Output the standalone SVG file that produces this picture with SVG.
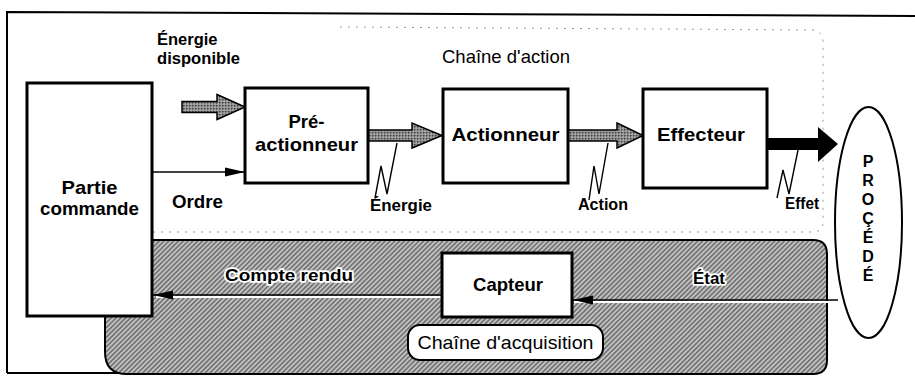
<svg xmlns="http://www.w3.org/2000/svg" width="915" height="385" viewBox="0 0 915 385">
  <style>
    .lbl { font-family: "Liberation Sans", Arial, sans-serif; font-weight: bold; fill: #000; }
    .reg { font-family: "Liberation Sans", Arial, sans-serif; font-weight: normal; fill: #000; }
    .box { fill: #fff; stroke: #000; stroke-width: 3; }
    .halo { paint-order: stroke; stroke: #fff; stroke-width: 3.5; stroke-linejoin: round; }
    .bolt { fill: none; stroke: #000; stroke-width: 1.4; stroke-linejoin: miter; }
    .thin { stroke: #000; stroke-width: 1.6; fill: none; }
  </style>
  <defs>
    <!-- diagonal hatch used for the acquisition band -->
    <pattern id="hatch" width="3.4" height="3.4" patternUnits="userSpaceOnUse" patternTransform="rotate(45)">
      <rect width="3.4" height="3.4" fill="#c2c2c2"/>
      <rect width="1.6" height="3.4" fill="#707070"/>
    </pattern>
    <!-- stippled grey for the energy arrows -->
    <pattern id="stip" width="3" height="3" patternUnits="userSpaceOnUse">
      <rect width="3" height="3" fill="#909090"/>
      <rect width="1.5" height="1.5" fill="#444"/>
      <rect x="1.5" y="1.5" width="1" height="1" fill="#ddd"/>
    </pattern>
    <marker id="head" markerWidth="22" markerHeight="12" refX="20" refY="6" orient="auto" markerUnits="userSpaceOnUse">
      <path d="M0,1.5 L20,6 L0,10.5 Z" fill="#000"/>
    </marker>
  </defs>

  <rect width="915" height="385" fill="#fff"/>

  <!-- outer frame -->
  <path d="M7,373 L7,12 L915,16" fill="none" stroke="#000" stroke-width="2"/>
  <path d="M7,373 L212,373" fill="none" stroke="#000" stroke-width="2"/>
  <path d="M212,373 L275,373" fill="none" stroke="#bbb" stroke-width="2"/>

  <!-- action chain region (faint dotted outline) -->
  <g id="chaine-action">
    <path d="M340,27 L812,30 Q823,31 823,42 L823,222 Q823,232 812,232 L152,232" fill="none" stroke="#9a9a9a" stroke-width="1" stroke-dasharray="2 6"/>
    <text class="reg" x="442" y="63" font-size="18.5" textLength="128" lengthAdjust="spacingAndGlyphs">Chaîne d'action</text>
  </g>

  <!-- acquisition chain region -->
  <g id="chaine-acquisition">
    <path d="M105,240 L813,240 Q827,240 827,254 L827,360 Q827,374 813,374 L127,374 Q105,374 105,352 Z" fill="url(#hatch)" stroke="#000" stroke-width="2"/>
    <rect x="408" y="325" width="195" height="35" rx="12" fill="#fff" stroke="#000" stroke-width="2"/>
    <text class="reg" x="505.5" y="349" font-size="18.5" text-anchor="middle" textLength="176" lengthAdjust="spacingAndGlyphs">Chaîne d'acquisition</text>
  </g>

  <!-- connectors -->
  <g id="connectors">
    <!-- available energy into pre-actuator -->
    <path d="M182,101.5 L217,101.5 L217,94.5 L245,107 L217,119.5 L217,112.5 L182,112.5 Z" fill="url(#stip)" stroke="#000" stroke-width="1.5"/>
    <!-- order -->
    <line class="thin" x1="152" y1="172" x2="245" y2="172" marker-end="url(#head)"/>
    <!-- energy -->
    <path d="M368,130 L412,130 L412,123 L442,135.5 L412,148 L412,141 L368,141 Z" fill="url(#stip)" stroke="#000" stroke-width="1.5"/>
    <!-- action -->
    <path d="M568,130 L617,130 L617,123 L643,135.5 L617,148 L617,141 L568,141 Z" fill="url(#stip)" stroke="#000" stroke-width="1.5"/>
    <!-- effect -->
    <path d="M767,138 L818,138 L818,127 L838,144 L818,162 L818,150 L767,150 Z" fill="#000"/>
    <!-- lightning marks -->
    <path class="bolt" d="M397,143 L387,194 L381,166 L375,198"/>
    <path class="bolt" d="M608,143 L599,194 L594,166 L589,200"/>
    <path class="bolt" d="M798,150 L789,194 L783,170 L777,198"/>
    <!-- state -->
    <line x1="838" y1="302" x2="574" y2="302" stroke="#fff" stroke-width="2"/>
    <line class="thin" x1="838" y1="300" x2="573" y2="300" marker-end="url(#head)"/>
    <!-- report -->
    <line x1="442" y1="297" x2="156" y2="297" stroke="#fff" stroke-width="2"/>
    <line class="thin" x1="442" y1="295" x2="153" y2="295" marker-end="url(#head)"/>
  </g>

  <!-- connector labels -->
  <g id="labels">
    <text class="lbl" x="157" y="45" font-size="16.5">Énergie</text>
    <text class="lbl" x="157" y="64" font-size="16.5" textLength="83" lengthAdjust="spacingAndGlyphs">disponible</text>
    <text class="lbl" x="172" y="208" font-size="17.5" textLength="51" lengthAdjust="spacingAndGlyphs">Ordre</text>
    <text class="lbl" x="370" y="211" font-size="17" textLength="62" lengthAdjust="spacingAndGlyphs">Énergie</text>
    <text class="lbl" x="578" y="210" font-size="16.5" textLength="50" lengthAdjust="spacingAndGlyphs">Action</text>
    <text class="lbl" x="785" y="209" font-size="16.5" textLength="34" lengthAdjust="spacingAndGlyphs">Effet</text>
    <text class="lbl halo" x="225" y="281" font-size="17" textLength="128" lengthAdjust="spacingAndGlyphs">Compte rendu</text>
    <text class="lbl halo" x="693" y="284" font-size="17" textLength="32" lengthAdjust="spacingAndGlyphs">État</text>
  </g>

  <g id="partie-commande">
    <rect class="box" x="27" y="83" width="125" height="233"/>
    <text class="lbl" x="89.5" y="194" font-size="18" text-anchor="middle" textLength="56" lengthAdjust="spacingAndGlyphs">Partie</text>
    <text class="lbl" x="89.5" y="215" font-size="18" text-anchor="middle" textLength="99" lengthAdjust="spacingAndGlyphs">commande</text>
  </g>

  <g id="preactionneur">
    <rect class="box" x="245" y="88" width="123" height="95"/>
    <text class="lbl" x="306.5" y="128" font-size="18.5" text-anchor="middle">Pré-</text>
    <text class="lbl" x="306.5" y="151" font-size="18.5" text-anchor="middle" textLength="103" lengthAdjust="spacingAndGlyphs">actionneur</text>
  </g>

  <g id="actionneur">
    <rect class="box" x="443" y="89" width="125" height="94"/>
    <text class="lbl" x="505.5" y="141" font-size="18.5" text-anchor="middle" textLength="108" lengthAdjust="spacingAndGlyphs">Actionneur</text>
  </g>

  <g id="effecteur">
    <rect class="box" x="643" y="89" width="124" height="99"/>
    <text class="lbl" x="701" y="141" font-size="18.5" text-anchor="middle" textLength="88" lengthAdjust="spacingAndGlyphs">Effecteur</text>
  </g>

  <g id="capteur">
    <rect class="box" x="442" y="253" width="130" height="64"/>
    <text class="lbl" x="508" y="291" font-size="18.5" text-anchor="middle" textLength="70" lengthAdjust="spacingAndGlyphs">Capteur</text>
  </g>

  <g id="procede">
    <ellipse cx="868.5" cy="222.5" rx="33.5" ry="115.5" fill="#fff" stroke="#000" stroke-width="2"/>
    <g class="lbl" font-size="16" text-anchor="middle">
      <text x="868" y="167">P</text>
      <text x="868" y="186">R</text>
      <text x="868" y="205">O</text>
      <text x="868" y="224">Ç</text>
      <text x="868" y="243">É</text>
      <text x="868" y="262">D</text>
      <text x="868" y="281">É</text>
    </g>
  </g>
</svg>
